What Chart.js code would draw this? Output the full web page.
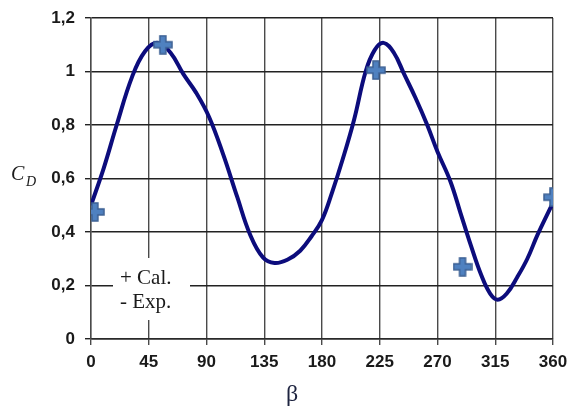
<!DOCTYPE html>
<html>
<head>
<meta charset="utf-8">
<script src="https://cdn.jsdelivr.net/npm/chart.js@4"></script>
<style>
  html, body { margin: 0; padding: 0; background: #fff; }
  #wrap { width: 569px; height: 409px; }
</style>
</head>
<body>
<div id="wrap"><canvas id="cdChart" width="569" height="409"></canvas></div>
<script>
// calculated points (+)
const calBeta = [3, 56, 222, 289.5, 360];
const calCd = [0.475, 1.10, 1.005, 0.27, 0.53];

// experimental curve (-)
const expBeta = [0, 10, 20, 32, 42, 52, 62, 72, 82, 92, 103, 114, 124, 134, 143, 153, 163, 172, 180,
  188, 196, 205, 214, 221, 228, 236, 244, 253, 262, 270, 280, 288, 296, 304, 311, 317, 324, 332, 340, 348, 360];
const expCd = [0.50, 0.64, 0.80, 0.98, 1.075, 1.107, 1.07, 0.99, 0.92, 0.83, 0.69, 0.53, 0.39, 0.305, 0.284, 0.296, 0.33, 0.385, 0.445,
  0.55, 0.67, 0.82, 1.0, 1.08, 1.107, 1.07, 0.99, 0.90, 0.80, 0.70, 0.59, 0.47, 0.35, 0.24, 0.17, 0.147, 0.17, 0.23, 0.30, 0.39, 0.51];

const betaTicks = [0, 45, 90, 135, 180, 225, 270, 315, 360];
const cdTicks = ['0', '0,2', '0,4', '0,6', '0,8', '1', '1,2'];

// plus marker
function plusMarker() {
  const c = document.createElement('canvas');
  c.width = 20; c.height = 20;
  const g = c.getContext('2d');
  g.beginPath();
  g.moveTo(7, 1); g.lineTo(13, 1); g.lineTo(13, 7); g.lineTo(19, 7); g.lineTo(19, 13);
  g.lineTo(13, 13); g.lineTo(13, 19); g.lineTo(7, 19); g.lineTo(7, 13); g.lineTo(1, 13);
  g.lineTo(1, 7); g.lineTo(7, 7); g.closePath();
  g.fillStyle = '#4f81c0';
  g.fill();
  g.lineWidth = 1.5;
  g.strokeStyle = '#3b5f92';
  g.stroke();
  return c;
}

const extraText = {
  id: 'extraText',
  afterDraw(chart) {
    const ctx = chart.ctx;
    ctx.save();
    // legend box
    ctx.fillStyle = '#fff';
    ctx.fillRect(113, 258, 77, 62);
    ctx.fillStyle = '#1a1a1a';
    ctx.font = '21px "Liberation Serif", serif';
    ctx.textBaseline = 'alphabetic';
    ctx.textAlign = 'left';
    ctx.fillText('+ Cal.', 120, 284);
    ctx.fillText('- Exp.', 120, 308);
    // y title C_D
    ctx.font = 'italic 20px "Liberation Serif", serif';
    ctx.fillText('C', 11, 180);
    ctx.font = 'italic 14px "Liberation Serif", serif';
    ctx.fillText('D', 26, 186);
    // x title
    ctx.fillStyle = '#1e2440';
    ctx.font = '24px "Liberation Serif", serif';
    ctx.textAlign = 'center';
    ctx.fillText('β', 292, 401);
    ctx.restore();
  }
};

new Chart(document.getElementById('cdChart'), {
  type: 'scatter',
  data: {
    datasets: [
      {
        label: 'Cal.',
        data: calBeta.map((b, i) => ({ x: b, y: calCd[i] })),
        pointStyle: plusMarker(),
        pointRadius: 10,
        showLine: false,
        order: 0
      },
      {
        label: 'Exp.',
        data: expBeta.map((b, i) => ({ x: b, y: expCd[i] })),
        showLine: true,
        borderColor: '#0c0c7c',
        borderWidth: 4,
        pointRadius: 0,
        tension: 0.4,
        order: 1
      }
    ]
  },
  options: {
    responsive: false,
    animation: false,
    layout: { padding: { left: 0, right: 16, top: 18, bottom: 0 } },
    plugins: { legend: { display: false }, tooltip: { enabled: false } },
    scales: {
      x: {
        type: 'linear',
        min: 0, max: 360,
        afterBuildTicks: s => { s.ticks = betaTicks.map(v => ({ value: v })); },
        afterFit: s => { s.height = 70; s.paddingLeft = 0; s.paddingRight = 0; },
        ticks: {
          color: '#1a1a1a',
          font: { family: '"Liberation Sans", Arial, sans-serif', size: 17, weight: 'bold' },
          padding: 7,
          maxRotation: 0
        },
        grid: { color: '#4a4a4a', lineWidth: 1.4, tickLength: 6 },
        border: { color: '#2a2a2a', width: 1.4 }
      },
      y: {
        min: 0, max: 1.2,
        afterBuildTicks: s => { s.ticks = cdTicks.map((t, i) => ({ value: i * 0.2 })); },
        afterFit: s => { s.width = 91; s.paddingTop = 0; s.paddingBottom = 0; },
        ticks: {
          color: '#1a1a1a',
          font: { family: '"Liberation Sans", Arial, sans-serif', size: 17, weight: 'bold' },
          padding: 10,
          callback: (v, i) => cdTicks[i]
        },
        grid: { color: '#222', lineWidth: 1.4, tickLength: 6 },
        border: { color: '#4a4a4a', width: 1.4 }
      }
    }
  },
  plugins: [extraText]
});
</script>
</body>
</html>
